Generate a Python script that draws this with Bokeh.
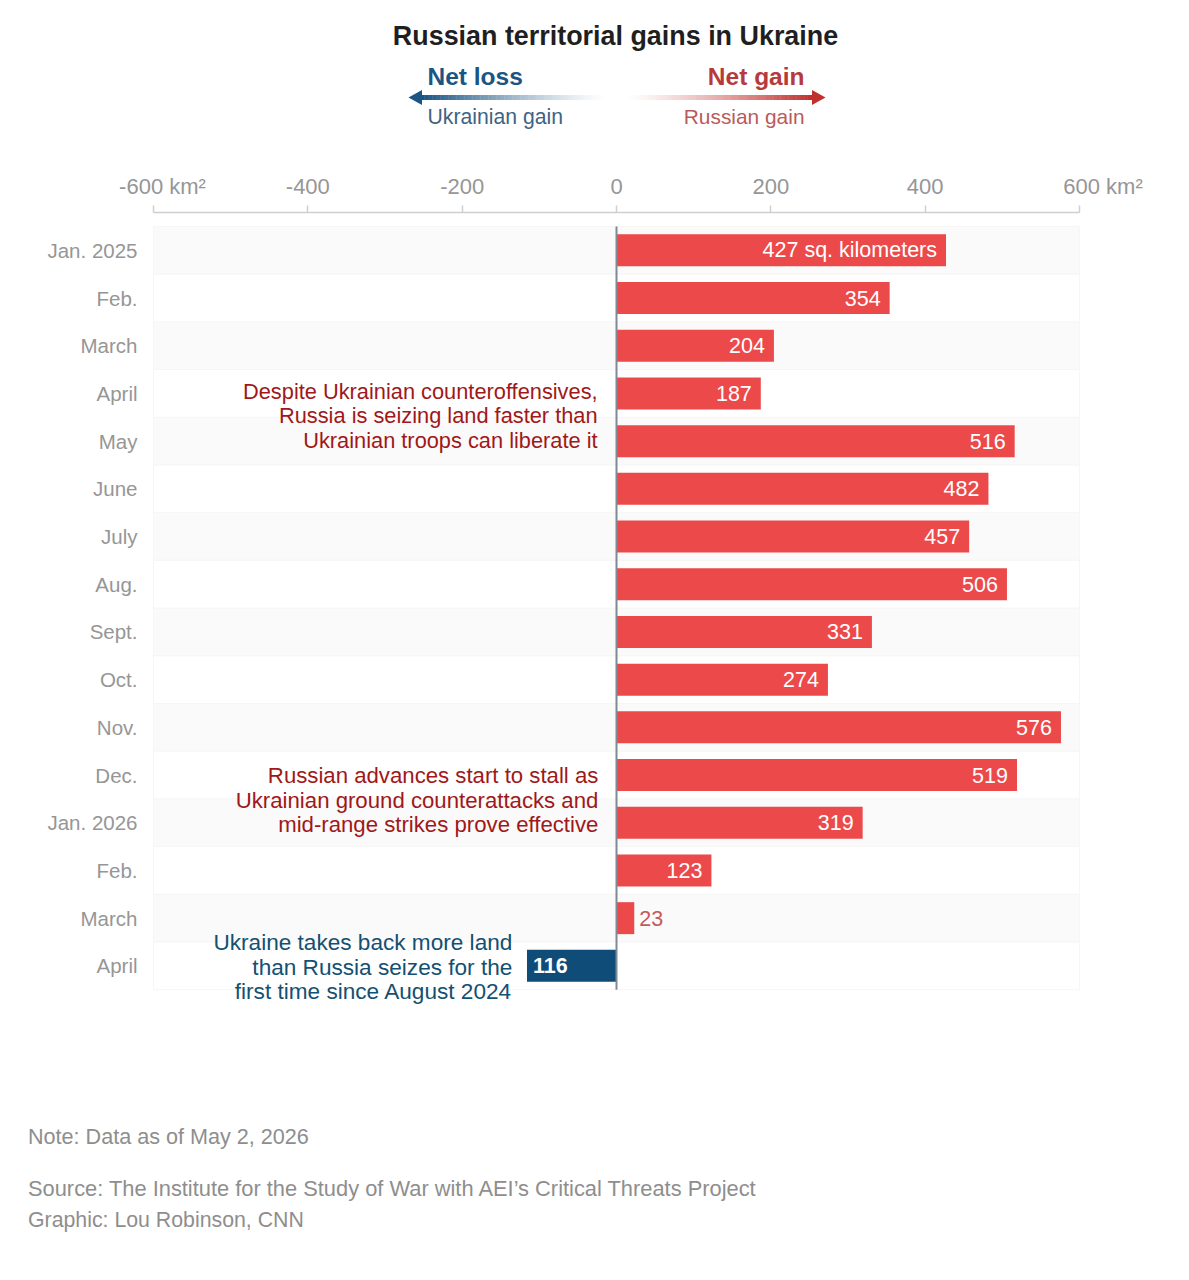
from bokeh.plotting import figure
from bokeh.models import Range1d, FixedTicker, LinearAxis, ColumnDataSource
from bokeh.core.properties import value
from bokeh.embed import file_html
from bokeh.resources import INLINE
import numpy as np

months = ["Jan. 2025", "Feb.", "March", "April", "May", "June", "July", "Aug.", "Sept.", "Oct.",
          "Nov.", "Dec.", "Jan. 2026", "Feb.", "March", "April"]
net_km2 = [427, 354, 204, 187, 516, 482, 457, 506, 331, 274, 576, 519, 319, 123, 23, -116]
value_labels = ["427 sq. kilometers", "354", "204", "187", "516", "482", "457", "506", "331", "274",
                "576", "519", "319", "123", "23", "116"]
x_ticks = [-600, -400, -200, 0, 200, 400, 600]
x_tick_labels = ["", "-400", "-200", "0", "200", "400", ""]

FONT = "Liberation Sans"
FV = value(FONT)
RED = "#ec4a4a"
BLUE = "#0f4c78"
GRAY = "#8e8e8e"
TICK_GRAY = "#969696"
W, H = 1189, 1280
LEFT, RIGHT = 153, 1079          # pixel position of -600 and +600
ROW_TOP, ROW_H = 226, 47.7       # top of the first row, height of a row
PX = (RIGHT - LEFT) / 1200

x_start = -600 - LEFT / PX
x_end = 600 + (W - RIGHT) / PX
y_start = -0.5 - ROW_TOP / ROW_H
y_end = -0.5 + (H - ROW_TOP) / ROW_H
AXIS_Y = -0.5 - 14 / ROW_H

p = figure(width=W, height=H, output_backend="svg", toolbar_location=None,
           x_range=Range1d(x_start, x_end), y_range=Range1d(y_end, y_start),
           x_axis_type=None, y_axis_type=None,
           min_border_left=0, min_border_right=0, min_border_top=0, min_border_bottom=0,
           outline_line_color=None)
p.grid.visible = False
# page-pixel ranges for everything outside the chart body
p.extra_x_ranges = {"px": Range1d(0, W)}
p.extra_y_ranges = {"py": Range1d(H, 0)}


def page_txt(x, y, s, size, color, align="left", style="normal"):
    p.text([x], [y], text=[s], x_range_name="px", y_range_name="py", text_font=FV,
           text_font_size=f"{size}px", text_color=color, text_align=align,
           text_baseline="middle", text_font_style=style)


def txt(x, y, s, size, color, align="right", y_offset=0):
    p.text([x], [y], text=[s], text_font=FV, text_font_size=f"{size}px", text_color=color,
           text_align=align, text_baseline="middle", y_offset=y_offset)


def ramp(rgb, t):
    return "#%02x%02x%02x" % tuple(int(round(255 + (k - 255) * t)) for k in rgb)


# ---------- header ----------
page_txt(615, 35, "Russian territorial gains in Ukraine", 26.9, "#1f1f1f", "center", "bold")
page_txt(427, 76, "Net loss", 24.5, "#1b5583", "left", "bold")
page_txt(427, 116, "Ukrainian gain", 21.2, "#3f6384")
page_txt(804, 76, "Net gain", 24.5, "#b73a3a", "right", "bold")
page_txt(804, 116, "Russian gain", 20.9, "#bb5a5a", "right")

n = 70
e_l = np.linspace(421, 608, n + 1)
tl = np.linspace(1, 0, n) ** 1.3
p.quad(left=e_l[:-1], right=e_l[1:] + 0.4, top=99.5, bottom=94.5, x_range_name="px", y_range_name="py",
       fill_color=[ramp((0x1b, 0x55, 0x83), t) for t in tl], line_color=None)
e_r = np.linspace(624, 812, n + 1)
tr = np.linspace(0, 1, n) ** 1.3
p.quad(left=e_r[:-1], right=e_r[1:] + 0.4, top=99.5, bottom=94.5, x_range_name="px", y_range_name="py",
       fill_color=[ramp((0xc0, 0x30, 0x2c), t) for t in tr], line_color=None)
p.patch([408, 421.5, 421.5], [97, 89.5, 104.5], x_range_name="px", y_range_name="py",
        fill_color="#1b5583", line_color=None)
p.patch([825, 811.5, 811.5], [97, 89.5, 104.5], x_range_name="px", y_range_name="py",
        fill_color="#c0302c", line_color=None)

# ---------- axes ----------
rows = list(range(len(months)))

ax = LinearAxis(fixed_location=AXIS_Y, bounds=(-600, 600), ticker=FixedTicker(ticks=x_ticks))
ax.major_label_overrides = {t: s for t, s in zip(x_ticks, x_tick_labels)}
ax.major_label_text_font = FONT
ax.major_label_text_font_size = "22px"
ax.major_label_text_color = TICK_GRAY
ax.major_label_standoff = 12
ax.axis_line_color = "#cfcfcf"
ax.axis_line_width = 1.5
ax.major_tick_line_color = "#cfcfcf"
ax.major_tick_line_width = 1.5
ax.major_tick_out = 7
ax.major_tick_in = 0
ax.minor_tick_line_color = None
p.add_layout(ax, "above")

ay = LinearAxis(fixed_location=-600, ticker=FixedTicker(ticks=rows))
ay.major_label_overrides = {r: m for r, m in zip(rows, months)}
ay.major_label_text_font = FONT
ay.major_label_text_font_size = "20.5px"
ay.major_label_text_color = TICK_GRAY
ay.major_label_standoff = 16
ay.axis_line_color = None
ay.major_tick_line_color = None
ay.minor_tick_line_color = None
ay.major_tick_out = 0
ay.major_tick_in = 0
p.add_layout(ay, "left")

page_txt(162, 186, "-600 km²", 22, TICK_GRAY, "center")
page_txt(1102.5, 186, "600 km²", 22, TICK_GRAY, "center")

# ---------- bands, bars, labels ----------
p.hbar(y=rows[::2], left=-600, right=600, height=1, fill_color="#fafafa", line_color="#f6f6f6",
       line_width=1, level="underlay")
p.hbar(y=rows[1::2], left=-600, right=600, height=1, fill_color="#ffffff", line_color="#f6f6f6",
       line_width=1, level="underlay")

colors = [RED if v >= 0 else BLUE for v in net_km2]
src = ColumnDataSource(dict(y=rows, v=net_km2, c=colors, t=value_labels))
p.hbar(y="y", left=0, right="v", height=0.67, fill_color="c", line_color=None, source=src)
p.segment(x0=[0], x1=[0], y0=[rows[0] - 0.5], y1=[rows[-1] + 0.5], line_color="#7f8a94", line_width=2)

inside = [i for i, v in enumerate(net_km2) if v > 100]
p.text(x=[net_km2[i] for i in inside], y=[rows[i] for i in inside], text=[value_labels[i] for i in inside],
       text_font=FV, text_font_size="21.5px", text_color="#ffffff", text_align="right",
       text_baseline="middle", x_offset=-9)
small = [i for i, v in enumerate(net_km2) if 0 <= v <= 100]
p.text(x=[net_km2[i] for i in small], y=[rows[i] for i in small], text=[value_labels[i] for i in small],
       text_font=FV, text_font_size="21.5px", text_color="#c45a5a", text_align="left",
       text_baseline="middle", x_offset=5)
neg = [i for i, v in enumerate(net_km2) if v < 0]
p.text(x=[net_km2[i] for i in neg], y=[rows[i] for i in neg], text=[value_labels[i] for i in neg],
       text_font=FV, text_font_size="21.5px", text_color="#ffffff", text_align="left",
       text_baseline="middle", text_font_style="bold", x_offset=6)

# ---------- annotations ----------
DARKRED = "#a01818"
NOTE_BLUE = "#135072"
for s, off in zip(["Despite Ukrainian counteroffensives,", "Russia is seizing land faster than",
                   "Ukrainian troops can liberate it"], [-2, 22.5, 47]):
    txt(-24.5, 3, s, 21.8, DARKRED, y_offset=off)
for s, off in zip(["Russian advances start to stall as", "Ukrainian ground counterattacks and",
                   "mid-range strikes prove effective"], [0, 25, 49]):
    txt(-23.5, 11, s, 22.2, DARKRED, y_offset=off)
for s, off in zip(["Ukraine takes back more land", "than Russia seizes for the",
                   "first time since August 2024"], [-23, 1.5, 26]):
    txt(-135, 15, s, 22.6, NOTE_BLUE, y_offset=off)

# ---------- footer ----------
page_txt(27.5, 1135.5, "Note: Data as of May 2, 2026", 21.6, GRAY)
page_txt(27.5, 1188, "Source: The Institute for the Study of War with AEI’s Critical Threats Project", 21.85, GRAY)
page_txt(27.5, 1219.5, "Graphic: Lou Robinson, CNN", 21.3, GRAY)

open("out.html", "w").write(file_html(p, INLINE))
